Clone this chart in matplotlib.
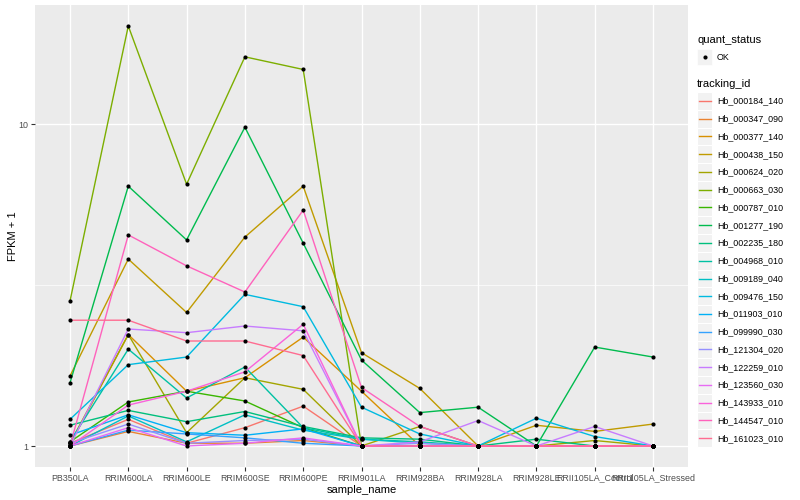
import matplotlib
matplotlib.use("Agg")
import matplotlib.pyplot as plt
from matplotlib.ticker import FixedLocator, NullFormatter
from matplotlib.patches import Rectangle
from matplotlib.lines import Line2D
import numpy as np

plt.rcParams["font.family"] = ["Liberation Sans", "DejaVu Sans"]

samples = ["PB350LA", "RRIM600LA", "RRIM600LE", "RRIM600SE", "RRIM600PE",
           "RRIM901LA", "RRIM928BA", "RRIM928LA", "RRIM928LE",
           "RRII105LA_Control", "RRII105LA_Stressed"]

tracking_ids = ["Hb_000184_140", "Hb_000347_090", "Hb_000377_140", "Hb_000438_150",
                "Hb_000624_020", "Hb_000663_030", "Hb_000787_010", "Hb_001277_190",
                "Hb_002235_180", "Hb_004968_010", "Hb_009189_040", "Hb_009476_150",
                "Hb_011903_010", "Hb_099990_030", "Hb_121304_020", "Hb_122259_010",
                "Hb_123560_030", "Hb_143933_010", "Hb_144547_010", "Hb_161023_010"]

# ggplot2 hue palette, 20 levels
colors = ["#F8766D", "#EA8331", "#D89000", "#C09B00", "#A3A500", "#7CAE00",
          "#39B600", "#00BB4E", "#00BF7D", "#00C1A3", "#00BFC4", "#00BAE0",
          "#00B0F6", "#35A2FF", "#9590FF", "#C77CFF", "#E76BF3", "#FA62DB",
          "#FF62BC", "#FF6C91"]

# FPKM + 1, one row per tracking_id, columns follow samples
fpkm = [
    [1.02, 1.21, 1.02, 1.14, 1.33, 1.00, 1.00, 1.00, 1.00, 1.00, 1.00],
    [1.00, 1.11, 1.02, 1.02, 1.04, 1.00, 1.00, 1.00, 1.00, 1.00, 1.00],
    [1.01, 2.22, 1.48, 1.63, 2.18, 1.48, 1.00, 1.00, 1.00, 1.00, 1.00],
    [1.65, 3.81, 2.60, 4.46, 6.42, 1.95, 1.51, 1.00, 1.16, 1.11, 1.17],
    [1.02, 2.22, 1.10, 1.63, 1.50, 1.00, 1.15, 1.00, 1.00, 1.04, 1.00],
    [2.82, 20.2, 6.51, 16.2, 14.8, 1.00, 1.00, 1.00, 1.00, 1.00, 1.00],
    [1.03, 1.37, 1.48, 1.38, 1.14, 1.00, 1.00, 1.00, 1.00, 1.00, 1.00],
    [1.57, 6.42, 4.37, 9.79, 4.27, 1.85, 1.27, 1.32, 1.00, 2.03, 1.89],
    [1.16, 1.29, 1.19, 1.28, 1.15, 1.06, 1.05, 1.00, 1.05, 1.00, 1.00],
    [1.03, 2.00, 1.41, 1.76, 1.14, 1.05, 1.03, 1.00, 1.00, 1.00, 1.00],
    [1.00, 1.24, 1.03, 1.25, 1.12, 1.05, 1.02, 1.00, 1.00, 1.00, 1.00],
    [1.21, 1.79, 1.89, 2.96, 2.71, 1.32, 1.09, 1.00, 1.22, 1.07, 1.00],
    [1.08, 1.25, 1.10, 1.08, 1.13, 1.00, 1.00, 1.00, 1.00, 1.00, 1.00],
    [1.00, 1.12, 1.09, 1.06, 1.02, 1.00, 1.00, 1.00, 1.00, 1.00, 1.00],
    [1.02, 1.17, 1.02, 1.04, 1.05, 1.00, 1.02, 1.00, 1.00, 1.00, 1.00],
    [1.00, 2.31, 2.25, 2.36, 2.28, 1.00, 1.03, 1.20, 1.00, 1.15, 1.00],
    [1.00, 1.14, 1.00, 1.02, 1.06, 1.00, 1.00, 1.00, 1.00, 1.00, 1.00],
    [1.00, 1.34, 1.48, 1.70, 2.39, 1.00, 1.00, 1.00, 1.00, 1.00, 1.00],
    [1.00, 4.53, 3.63, 3.01, 5.41, 1.52, 1.15, 1.00, 1.00, 1.00, 1.00],
    [2.46, 2.46, 2.12, 2.12, 1.91, 1.00, 1.00, 1.00, 1.00, 1.00, 1.00],
]

fig = plt.figure(figsize=(8, 5), dpi=100)
ax = fig.add_axes([35 / 800, 33 / 500, 653 / 800, 462 / 500])
ax.set_facecolor("#EBEBEB")
for s in ax.spines.values():
    s.set_visible(False)

x = np.arange(len(samples))
for vals, c in zip(fpkm, colors):
    ax.plot(x, vals, color=c, lw=1.0, zorder=3)
for vals in fpkm:
    ax.plot(x, vals, "o", color="black", ms=3.0, mew=0, zorder=4)

ax.set_yscale("log")
lo, hi = 0.0, np.log10(max(max(r) for r in fpkm))
pad = (hi - lo) * 0.05
ax.set_ylim(10 ** (lo - pad), 10 ** (hi + pad))
ax.set_xlim(-0.6, len(samples) - 0.4)

ax.yaxis.set_major_locator(FixedLocator([1, 10]))
ax.set_yticklabels(["1", "10"])
ax.yaxis.set_minor_locator(FixedLocator([10 ** 0.5]))
ax.yaxis.set_minor_formatter(NullFormatter())
ax.set_xticks(x)
ax.set_xticklabels(samples)

ax.grid(which="major", color="white", lw=1.0, zorder=0)
ax.grid(which="minor", axis="y", color="white", lw=0.5, zorder=0)
ax.set_axisbelow(True)
ax.tick_params(which="major", length=2.8, width=0.8, color="#333333",
               labelsize=6.4, labelcolor="#4D4D4D", pad=2)
ax.tick_params(which="minor", length=0)

ax.set_xlabel("sample_name", fontsize=8, labelpad=2)
ax.set_ylabel("FPKM + 1", fontsize=8, labelpad=0)

# legend drawn ggplot-style on the right
lx = 697 / 800
kw, kh = 15 / 800, 16 / 500
fig.text(lx, 1 - 40 / 500, "quant_status", fontsize=8, va="center", ha="left")
ky = 1 - 57 / 500
fig.patches.append(Rectangle((lx, ky - kh / 2), kw, kh, transform=fig.transFigure,
                             facecolor="#F2F2F2", edgecolor="white", lw=0.5))
fig.lines.append(Line2D([lx + kw / 2], [ky], transform=fig.transFigure, marker="o",
                        color="black", ms=3.0, mew=0))
fig.text(lx + 20 / 800, ky, "OK", fontsize=6.4, va="center", ha="left")

fig.text(lx, 1 - 84 / 500, "tracking_id", fontsize=8, va="center", ha="left")
step = 17.75 / 500
for i, (tid, c) in enumerate(zip(tracking_ids, colors)):
    yy = 1 - 101 / 500 - i * step
    fig.patches.append(Rectangle((lx, yy - step / 2), kw, step, transform=fig.transFigure,
                                 facecolor="#F2F2F2", edgecolor="white", lw=0.8))
    fig.lines.append(Line2D([lx + 1.5 / 800, lx + kw - 1.5 / 800], [yy, yy],
                            transform=fig.transFigure, color=c, lw=1.0))
    fig.text(lx + 20 / 800, yy, tid, fontsize=6.4, va="center", ha="left")

fig.savefig("out.png", dpi=100)
